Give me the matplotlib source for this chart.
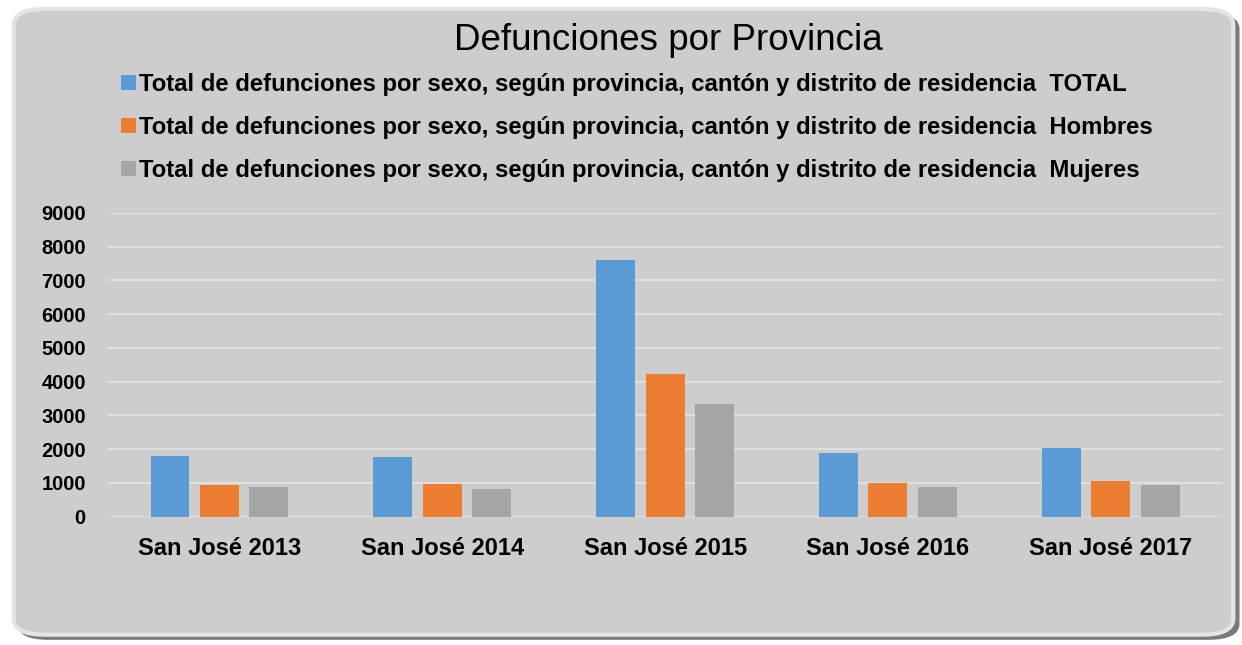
import numpy as np
import matplotlib.pyplot as plt
from matplotlib.patches import FancyBboxPatch, Patch

plt.rcParams['font.family'] = ['Liberation Sans', 'DejaVu Sans']

# Datos
categorias = ['San José 2013', 'San José 2014', 'San José 2015', 'San José 2016', 'San José 2017']
total = [1810, 1780, 7590, 1875, 2020]
hombres = [925, 955, 4230, 990, 1070]
mujeres = [875, 815, 3335, 875, 935]
base = 'Total de defunciones por sexo, según provincia, cantón y distrito de residencia  '
series = ['TOTAL', 'Hombres', 'Mujeres']
colores = ['#5b9bd5', '#ed7d31', '#a5a5a5']

fig = plt.figure(figsize=(12.42, 6.45), dpi=100)
fig.patch.set_facecolor('white')

# Marco redondeado con sombra
sombra = FancyBboxPatch((0.014, 0.008), 0.984, 0.972, boxstyle='round,pad=0,rounding_size=0.025',
                        transform=fig.transFigure, facecolor='#7a7a7a', edgecolor='none', zorder=0)
marco = FancyBboxPatch((0.011, 0.016), 0.982, 0.97, boxstyle='round,pad=0,rounding_size=0.025',
                       transform=fig.transFigure, facecolor='#cdcdcd', edgecolor='#e4e4e4',
                       linewidth=3, zorder=0.5)
fig.patches.extend([sombra, marco])

ax = fig.add_axes([0.087, 0.199, 0.897, 0.471])
ax.set_zorder(2)
ax.set_facecolor('none')

x = np.arange(len(categorias))
ancho = 0.175
paso = 0.222
for i, (vals, col) in enumerate(zip([total, hombres, mujeres], colores)):
    ax.bar(x + (i - 1) * paso, vals, width=ancho, color=col, zorder=3)

ax.set_xlim(-0.5, len(categorias) - 0.5)
ax.set_ylim(0, 9000)
ax.set_yticks(range(0, 9001, 1000))
ax.yaxis.grid(True, color='#e0e0e0', linewidth=1.5, zorder=0)
for s in ax.spines.values():
    s.set_visible(False)
ax.tick_params(axis='both', length=0)
ax.tick_params(axis='y', pad=16)
ax.tick_params(axis='x', pad=15)
ax.set_xticks(x)
ax.set_xticklabels(categorias, fontsize=17, fontweight='bold')
for t in ax.get_yticklabels():
    t.set_fontsize(14.5)
    t.set_fontweight('bold')

fig.text(0.538, 0.937, 'Defunciones por Provincia', ha='center', va='center', fontsize=26.5, zorder=3)

handles = [Patch(facecolor=c) for c in colores]
labels = [base + s for s in series]
leg = fig.legend(handles, labels, loc='upper left', bbox_to_anchor=(0.09, 0.902),
                 frameon=False, prop={'size': 17.2, 'weight': 'bold'},
                 handlelength=0.6, handleheight=0.6, handletextpad=0.12,
                 labelspacing=0.84, borderaxespad=0)
leg.set_zorder(3)

fig.savefig('out.png', dpi=100)
